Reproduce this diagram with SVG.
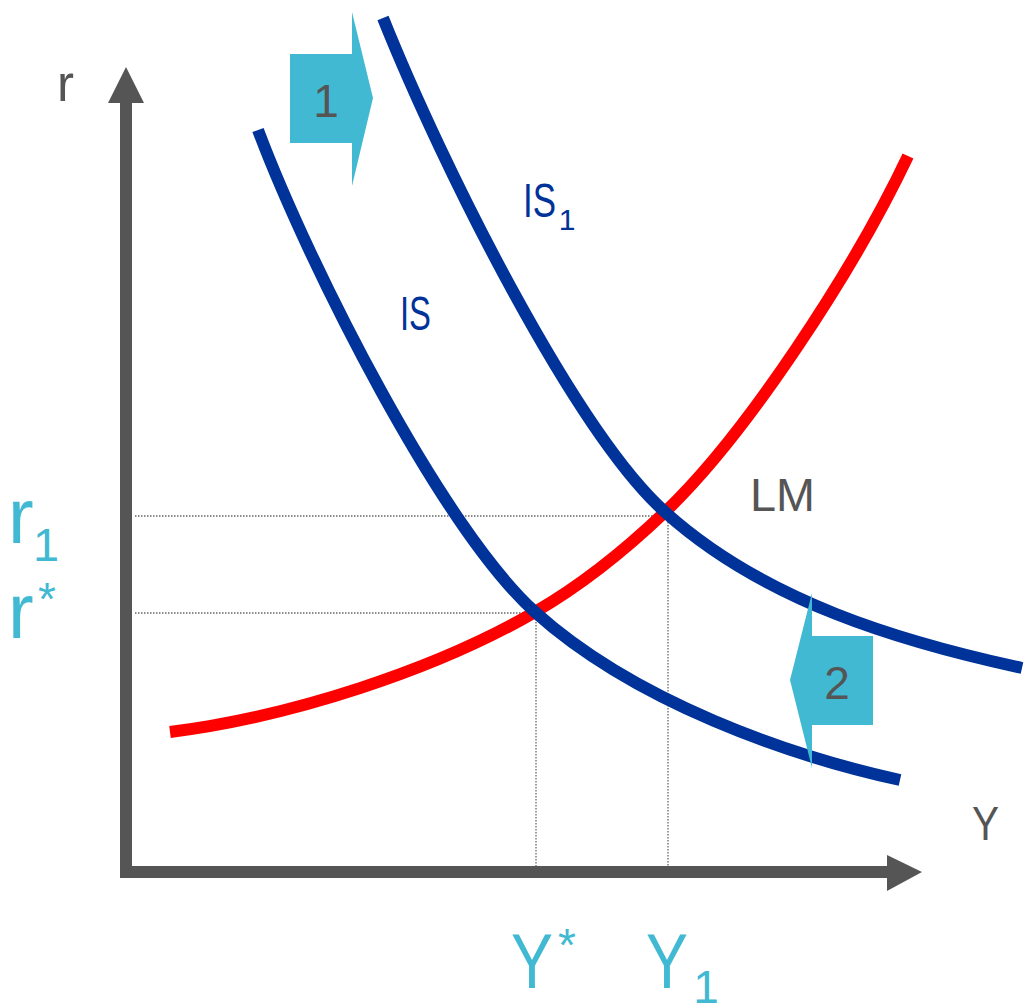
<svg xmlns="http://www.w3.org/2000/svg" width="1026" height="1005" viewBox="0 0 1026 1005">
<style>
.curve{fill:none;stroke-width:12;stroke-linecap:butt}
.is{stroke:#003399}
.lm{stroke:#FF0000}
.guide{stroke:#666666;stroke-width:1.3;stroke-dasharray:1.5 1.5;fill:none}
.grey{fill:#555555;font-family:"Liberation Sans",Arial,sans-serif}
.navy{fill:#003399;font-family:"Liberation Sans",Arial,sans-serif}
.cyan{fill:#42B9D3;font-family:"Liberation Sans",Arial,sans-serif}
.arrow{fill:#42B9D3}
</style>
<rect width="1026" height="1005" fill="#ffffff"/>
<g id="guides">
<path class="guide" d="M135,516 H665 M135,613 H535 M536,613 V866 M668,516 V866"/>
</g>
<g id="axes">
<rect x="120" y="100" width="12" height="778" fill="#555555"/>
<polygon points="126,67 108,103 144,103" fill="#555555"/>
<rect x="122" y="866" width="770" height="12" fill="#555555"/>
<polygon points="922,872 887,855 887,891" fill="#555555"/>
<text class="grey" x="57" y="101" font-size="52" textLength="17" lengthAdjust="spacingAndGlyphs">r</text>
<text class="grey" x="972" y="840" font-size="49" textLength="27" lengthAdjust="spacingAndGlyphs">Y</text>
</g>
<g id="connectors">
<path id="LM" class="curve lm" d="M170,732 C290,717 435,670 535,612 C580,586 620,555 665,512 C745,436 853,272 908,156"/>
<path id="IS" class="curve is" d="M258,130 C310,268 442,528 535,612 C635,702 790,756 900,780"/>
<path id="IS1" class="curve is" d="M383,18 C443,168 575,431 665,512 C765,602 902,642 1022,668"/>
</g>
<g id="label-IS"><text class="navy" x="400" y="330" font-size="48" textLength="31" lengthAdjust="spacingAndGlyphs">IS</text></g>
<g id="label-IS1"><text class="navy" x="523" y="217" font-size="48" textLength="33" lengthAdjust="spacingAndGlyphs">IS</text><text class="navy" x="567" y="230" font-size="30" text-anchor="middle">1</text></g>
<g id="label-LM"><text class="grey" x="750" y="511" font-size="47" textLength="65" lengthAdjust="spacingAndGlyphs">LM</text></g>
<g id="shift1">
<polygon class="arrow" points="290,54 352,54 352,12 373,98 352,186 352,143 290,143"/>
<text class="grey" x="326" y="117" font-size="46" text-anchor="middle">1</text>
</g>
<g id="shift2">
<polygon class="arrow" points="873,636 812,636 812,593 790,680 812,768 812,725 873,725"/>
<text class="grey" x="837" y="699" font-size="46" text-anchor="middle">2</text>
</g>
<g id="label-r1"><text class="cyan" x="8" y="543" font-size="77">r</text><text class="cyan" x="46" y="561" font-size="47" text-anchor="middle">1</text></g>
<g id="label-rstar"><text class="cyan" x="8" y="638" font-size="77">r</text><text class="cyan" x="47" y="615" font-size="46" text-anchor="middle">*</text></g>
<g id="label-Ystar"><text class="cyan" x="511" y="988" font-size="77" textLength="42" lengthAdjust="spacingAndGlyphs">Y</text><text class="cyan" x="567" y="961" font-size="46" text-anchor="middle">*</text></g>
<g id="label-Y1"><text class="cyan" x="646" y="988" font-size="77" textLength="42" lengthAdjust="spacingAndGlyphs">Y</text><text class="cyan" x="706" y="1003" font-size="46" text-anchor="middle">1</text></g>
</svg>
